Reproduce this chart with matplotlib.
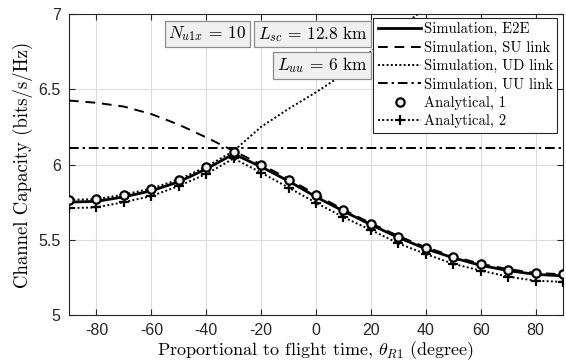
import matplotlib
matplotlib.use("Agg")
import matplotlib.pyplot as plt
import numpy as np

theta = [-90, -80, -70, -60, -50, -40, -30, -20, -10, 0, 10, 20, 30, 40, 50, 60, 70, 80, 90]

sim_e2e = [5.75, 5.755, 5.785, 5.825, 5.885, 5.97, 6.07, 5.985, 5.89, 5.785, 5.69,
           5.60, 5.515, 5.44, 5.38, 5.33, 5.295, 5.27, 5.26]
sim_su = [6.425, 6.41, 6.385, 6.335, 6.265, 6.18, 6.09, 6.0, 5.905, 5.80, 5.70,
          5.61, 5.525, 5.45, 5.39, 5.34, 5.305, 5.28, 5.27]
theta_ud = [-90, -80, -70, -60, -50, -40, -30, -20, -10, 0, 10, 20, 30, 40]
sim_ud = [5.765, 5.77, 5.80, 5.84, 5.90, 5.985, 6.09, 6.25, 6.37, 6.48, 6.60, 6.75, 6.90, 7.04]
sim_uu = [6.11] * len(theta)
ana_1 = [5.764, 5.77, 5.80, 5.84, 5.90, 5.985, 6.08, 5.997, 5.90, 5.797, 5.70,
         5.607, 5.52, 5.447, 5.385, 5.337, 5.30, 5.28, 5.27]
ana_2 = [5.71, 5.715, 5.75, 5.79, 5.857, 5.937, 6.04, 5.946, 5.846, 5.746, 5.65,
         5.565, 5.476, 5.405, 5.34, 5.295, 5.255, 5.228, 5.22]

xticks = [-80, -60, -40, -20, 0, 20, 40, 60, 80]
yticks = [5, 5.5, 6, 6.5, 7]

plt.rcParams['mathtext.fontset'] = 'cm'
plt.rcParams['axes.unicode_minus'] = False

fig = plt.figure(figsize=(5.66, 3.64), dpi=100)
ax = fig.add_axes([69/566, 49/364, 494/566, 301/364])

serif = 'cmr10'

ax.plot(theta, sim_e2e, color='black', lw=2.0, ls='-', label='Simulation, E2E', zorder=4)
ax.plot(theta, sim_su, color='black', lw=1.4, ls=(0, (5, 3.5)), label='Simulation, SU link', zorder=3)
ax.plot(theta_ud, sim_ud, color='black', lw=1.4, ls=(0, (1, 1.2)), label='Simulation, UD link', zorder=3)
ax.plot(theta, sim_uu, color='black', lw=1.4, ls=(0, (5, 2, 1.2, 2)), label='Simulation, UU link', zorder=3)
ax.plot(theta, ana_1, ls='none', marker='o', ms=6, mfc='#f0f0f0', mec='black', mew=1.6,
        color='black', label='Analytical, 1', zorder=5)
ax.plot(theta, ana_2, color='black', lw=1.4, ls=(0, (1, 1.2)), marker='+', ms=7.5, mew=1.6,
        label='Analytical, 2', zorder=4)

ax.set_xlim(-90, 90)
ax.set_ylim(5, 7)
ax.set_xticks(xticks)
ax.set_yticks(yticks)
ax.set_xticklabels([str(t) for t in xticks], family='Liberation Sans', fontsize=11.5)
ax.set_yticklabels(['5', '5.5', '6', '6.5', '7'], family='Liberation Sans', fontsize=11.5)
ax.tick_params(direction='in', top=True, right=True, length=4, width=0.8, colors='#262626', pad=6)
ax.grid(True, color='#dcdcdc', lw=0.8)
ax.set_axisbelow(True)
for s in ax.spines.values():
    s.set_color('#262626')
    s.set_linewidth(0.8)

ax.set_xlabel(r'Proportional to flight time, $\theta_{R1}$ (degree)', family=serif, fontsize=13, labelpad=1)
ax.set_ylabel('Channel Capacity (bits/s/Hz)', family=serif, fontsize=13.5, labelpad=4)

boxprops = dict(boxstyle='square,pad=0.2', fc='#f0f0f0', ec='#8c8c8c', lw=0.9)
fig.text(207.5/566, 1 - 34/364, r'$N_{u1x}\,=\,10$', fontsize=12.5, ha='center', va='center', bbox=boxprops, zorder=10)
fig.text(312.5/566, 1 - 34/364, r'$L_{sc}\,=\,12.8\ \mathrm{km}$', fontsize=12.5, ha='center', va='center', bbox=boxprops, zorder=10)
fig.text(322/566, 1 - 65.5/364, r'$L_{uu}\,=\,6\ \mathrm{km}$', fontsize=12.5, ha='center', va='center', bbox=boxprops, zorder=10)

leg = ax.legend(loc='upper right', bbox_to_anchor=(0.988, 0.987), borderaxespad=0,
                prop={'family': serif, 'size': 10.5}, handlelength=3.0, handletextpad=0.15,
                labelspacing=0.30, borderpad=0.3, fancybox=False, framealpha=1,
                edgecolor='#262626')
leg.get_frame().set_linewidth(0.8)
leg.set_zorder(20)

fig.savefig('out.png', dpi=100)
